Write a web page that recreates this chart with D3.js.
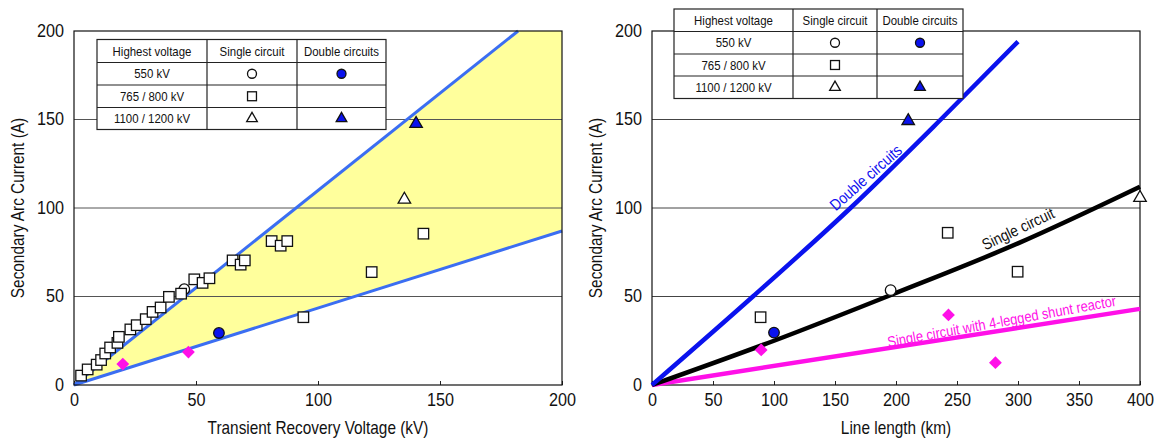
<!DOCTYPE html>
<meta charset="utf-8">
<style>
body { margin: 0; background: #fff; }
svg text { font-family: "Liberation Sans", Arial, sans-serif; fill: #111; }
</style>
<script src="https://cdnjs.cloudflare.com/ajax/libs/d3/7.8.5/d3.min.js"></script>
<body></body>
<script>

// ---- data ----
var yTicks = [0, 50, 100, 150, 200];
var trvTicks = [0, 50, 100, 150, 200];
var lenTicks = [0, 50, 100, 150, 200, 250, 300, 350, 400];

var legendHeaders = ['Highest voltage', 'Single circuit', 'Double circuits'];
var legendVoltages = ['550 kV', '765 / 800 kV', '1100 / 1200 kV'];
var legendSingle = ['circleOpen', 'square', 'triOpen'];
var legendDouble = ['circleFilled', null, 'triFilled'];

// left chart: secondary arc current vs transient recovery voltage
var trvUpper = [[0, 0], [182, 200]];
var trvLower = [[0, 0], [200, 87]];
var trvSquares = [[2.9, 5.3], [5.6, 8.8], [9.3, 11.5], [11.1, 14.1], [12.8, 17.8], [14.8, 21.2],
  [17.8, 23.8], [18.4, 27.2], [23.1, 31.4], [25.7, 33.8], [29.4, 37.2], [32.2, 41.3], [35.5, 43.8],
  [38.9, 49.8], [43.9, 51.6], [49.3, 59.7], [52.7, 57.7], [55.5, 60.3], [65, 70.4], [68.3, 68],
  [70, 70.4], [81, 81.3], [84.7, 78.7], [87.4, 81.3], [94, 38.3], [122, 63.8], [143.2, 85.5]];
var trvCircleOpen = [[45.2, 54.1]];
var trvCircleFilled = [[59.4, 29.4]];
var trvTriOpen = [[135.4, 104.8]];
var trvTriFilled = [[140.2, 147.6]];
var trvDiamonds = [[20, 11.8], [46.9, 18.6]];

// right chart: secondary arc current vs line length
var lenDouble = [[0, 0], [82.7, 50], [162.7, 100], [236.7, 150], [300, 194]];
var lenSingle = [[0, 0], [100, 25], [200, 52], [300, 80], [400, 112]];
var lenShunt = [[0, 0], [400, 43]];
var lenSquares = [[89, 38.3], [242.4, 86], [299.7, 64]];
var lenCircleOpen = [[195.6, 53.6]];
var lenCircleFilled = [[100, 29.6]];
var lenTriOpen = [[400, 105.8]];
var lenTriFilled = [[210, 149.2]];
var lenDiamonds = [[89.5, 19.8], [243, 39.6], [281.5, 12.6]];
var lenLabels = [
  { text: 'Double circuits', x: 175.2, y: 117.2, angle: -41.5, size: 16, color: '#1010f0' },
  { text: 'Single circuit', x: 300, y: 88.3, angle: -25.5, size: 16, color: '#111' },
  { text: 'Single circuit with 4-legged shunt reactor', x: 286.6, y: 36, angle: -10.3, size: 15, color: '#ff10e8' }
];

// ---- drawing ----
var width = 1158, height = 440;
var plotTop = 31, plotBottom = 385;
var blue = '#0a12ee', magenta = '#ff10e8';

var svg = d3.select('body').append('svg')
  .attr('width', width)
  .attr('height', height);

// the original uses a condensed face: move x/y into a transform and squash horizontally
function narrow(sel, k) {
  sel.each(function() {
    var t = d3.select(this);
    var x = +t.attr('x') || 0, y = +t.attr('y') || 0;
    var tr = t.attr('transform') || '';
    t.attr('x', null).attr('y', null)
      .attr('transform', tr + ' translate(' + x + ',' + y + ') scale(' + k + ',1)');
  });
}

function marker(g, type, x, y, big) {
  var s = big ? 1 : 0.85;
  var p;
  if (type === 'circleOpen' || type === 'circleFilled') {
    p = g.append('circle').attr('cx', x).attr('cy', y).attr('r', 5.3 * s)
      .attr('fill', type === 'circleOpen' ? '#fff' : blue);
  } else if (type === 'square') {
    var w = 10.5 * s;
    p = g.append('rect').attr('x', x - w / 2).attr('y', y - w / 2).attr('width', w).attr('height', w)
      .attr('fill', '#fff');
  } else if (type === 'triOpen' || type === 'triFilled') {
    var side = 12.5 * s;
    p = g.append('path')
      .attr('d', d3.symbol().type(d3.symbolTriangle).size(Math.sqrt(3) / 4 * side * side)())
      .attr('transform', 'translate(' + x + ',' + y + ')')
      .attr('fill', type === 'triOpen' ? '#fff' : blue);
  } else if (type === 'diamond') {
    p = g.append('path')
      .attr('d', d3.symbol().type(d3.symbolSquare).size(82)())
      .attr('transform', 'translate(' + x + ',' + y + ') rotate(45)')
      .attr('fill', magenta);
    return p;
  }
  p.attr('stroke', '#111').attr('stroke-width', 1.3);
  return p;
}

function frame(left, right, xDomain, xTicks, xTitle, titleX) {
  var x = d3.scaleLinear().domain(xDomain).range([left, right]);
  var y = d3.scaleLinear().domain([0, 200]).range([plotBottom, plotTop]);
  var g = svg.append('g');

  var xAxis = g.append('g').attr('transform', 'translate(0,' + plotBottom + ')')
    .call(d3.axisBottom(x).tickValues(xTicks).tickSize(-4).tickPadding(10).tickFormat(d3.format('d')));
  xAxis.select('.domain').remove();
  xAxis.selectAll('line').attr('stroke', '#222');
  xAxis.selectAll('text').attr('font-size', 18).attr('dy', '0.71em').attr('y', 8);

  var yAxis = g.append('g').attr('transform', 'translate(' + left + ',0)')
    .call(d3.axisLeft(y).tickValues(yTicks).tickSize(0).tickPadding(10));
  yAxis.select('.domain').remove();
  yAxis.selectAll('text').attr('font-size', 18).attr('dy', '0.3em');
  narrow(xAxis.selectAll('text'), 0.9);
  narrow(yAxis.selectAll('text'), 0.9);

  g.append('text').attr('x', (left + right) / 2).attr('y', 434)
    .attr('text-anchor', 'middle').attr('font-size', 18).text(xTitle).call(narrow, 0.855);
  g.append('text').attr('transform', 'translate(' + titleX + ',' + (plotTop + plotBottom) / 2 + ') rotate(-90)')
    .attr('text-anchor', 'middle').attr('font-size', 18).text('Secondary Arc Current (A)').call(narrow, 0.855);

  return { x: x, y: y, g: g, left: left, right: right };
}

function grid(c, color) {
  c.g.selectAll(null).data([50, 100, 150]).enter().append('line')
    .attr('x1', c.left).attr('x2', c.right)
    .attr('y1', function(d) { return c.y(d); }).attr('y2', function(d) { return c.y(d); })
    .attr('stroke', color).attr('stroke-width', 1);
}

function border(c) {
  c.g.append('rect').attr('x', c.left).attr('y', plotTop)
    .attr('width', c.right - c.left).attr('height', plotBottom - plotTop)
    .attr('fill', 'none').attr('stroke', '#111').attr('stroke-width', 1.2);
}

function legend(cols, rows) {
  var g = svg.append('g');
  g.append('rect').attr('x', cols[0]).attr('y', rows[0])
    .attr('width', cols[3] - cols[0]).attr('height', rows[4] - rows[0])
    .attr('fill', '#fff').attr('stroke', '#222').attr('stroke-width', 1.2);
  [cols[1], cols[2]].forEach(function(cx) {
    g.append('line').attr('x1', cx).attr('x2', cx).attr('y1', rows[0]).attr('y2', rows[4])
      .attr('stroke', '#222').attr('stroke-width', 1.2);
  });
  [rows[1], rows[2], rows[3]].forEach(function(ry) {
    g.append('line').attr('x1', cols[0]).attr('x2', cols[3]).attr('y1', ry).attr('y2', ry)
      .attr('stroke', '#222').attr('stroke-width', 1.2);
  });
  var mid = function(a, i) { return (a[i] + a[i + 1]) / 2; };
  legendHeaders.forEach(function(t, i) {
    g.append('text').attr('x', mid(cols, i)).attr('y', mid(rows, 0)).attr('dy', '0.35em')
      .attr('text-anchor', 'middle').attr('font-size', 13).text(t).call(narrow, 0.88);
  });
  legendVoltages.forEach(function(t, i) {
    g.append('text').attr('x', mid(cols, 0)).attr('y', mid(rows, i + 1)).attr('dy', '0.35em')
      .attr('text-anchor', 'middle').attr('font-size', 13).text(t).call(narrow, 0.88);
    marker(g, legendSingle[i], mid(cols, 1), mid(rows, i + 1), false);
    if (legendDouble[i]) marker(g, legendDouble[i], mid(cols, 2), mid(rows, i + 1), false);
  });
}

function points(c, data, type) {
  data.forEach(function(d) { marker(c.g, type, c.x(d[0]), c.y(d[1]), true); });
}

// left chart
var L = frame(74, 562, [0, 200], trvTicks, 'Transient Recovery Voltage (kV)', 24);
var line = d3.line().x(function(d) { return L.x(d[0]); }).y(function(d) { return L.y(d[1]); });
var band = trvUpper.concat([[200, 200]], trvLower.slice().reverse());
L.g.append('path').attr('d', line(band) + 'Z').attr('fill', '#ffff9c');
grid(L, '#555');
[trvUpper, trvLower].forEach(function(l) {
  L.g.append('path').attr('d', line(l)).attr('fill', 'none')
    .attr('stroke', '#3b6ef2').attr('stroke-width', 3);
});
border(L);
points(L, trvCircleOpen, 'circleOpen');
points(L, trvSquares, 'square');
points(L, trvCircleFilled, 'circleFilled');
points(L, trvTriOpen, 'triOpen');
points(L, trvTriFilled, 'triFilled');
points(L, trvDiamonds, 'diamond');
legend([97, 207, 297, 386], [39.5, 62.5, 85, 107.5, 129.5]);

// right chart
var R = frame(652, 1140, [0, 400], lenTicks, 'Line length (km)', 602);
grid(R, '#444');
var rline = d3.line().curve(d3.curveMonotoneX)
  .x(function(d) { return R.x(d[0]); }).y(function(d) { return R.y(d[1]); });
border(R);
[[lenShunt, magenta], [lenSingle, '#000'], [lenDouble, blue]].forEach(function(l) {
  R.g.append('path').attr('d', rline(l[0])).attr('fill', 'none')
    .attr('stroke', l[1]).attr('stroke-width', 4.5);
});
lenLabels.forEach(function(d) {
  R.g.append('text')
    .attr('transform', 'translate(' + R.x(d.x) + ',' + R.y(d.y) + ') rotate(' + d.angle + ') scale(0.86,1)')
    .attr('text-anchor', 'middle').attr('dy', '0.35em').attr('font-size', d.size)
    .style('fill', d.color).text(d.text);
});
points(R, lenSquares, 'square');
points(R, lenCircleOpen, 'circleOpen');
points(R, lenCircleFilled, 'circleFilled');
points(R, lenTriOpen, 'triOpen');
points(R, lenTriFilled, 'triFilled');
points(R, lenDiamonds, 'diamond');
legend([674, 793, 877, 963], [9, 31.5, 54, 76, 98.5]);

</script>
